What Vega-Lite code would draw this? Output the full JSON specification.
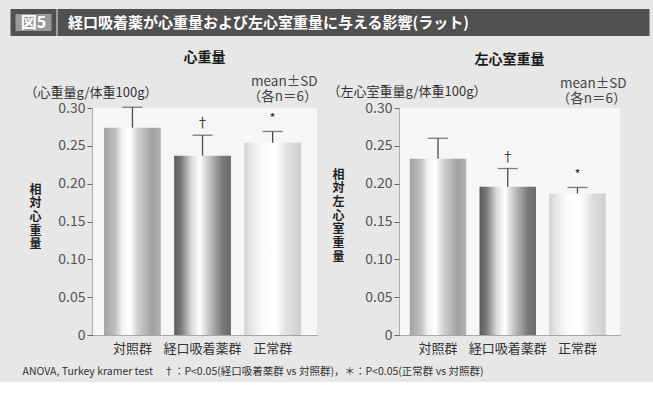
{
  "$schema": "https://vega.github.io/schema/vega-lite/v6.json",
  "background": "#e7e7e7",
  "padding": {"left": 10, "top": 8.5, "right": 8, "bottom": 4},
  "config": {
    "font": "Noto Sans CJK JP",
    "view": {"stroke": null},
    "axisY": {
      "titleAngle": 0, "titleAlign": "left", "titleBaseline": "middle",
      "titleFontSize": 13, "titleFontWeight": "normal", "titleColor": "#333",
      "domainColor": "#666", "domainDash": [1, 1], "tickColor": "#666", "tickSize": 5,
      "labelFontSize": 14, "labelColor": "#555", "labelPadding": 2, "grid": false
    },
    "axisBottom": {
      "domainColor": "#666", "domainDash": [1, 1], "ticks": false, "labelAngle": 0,
      "labelFontSize": 13, "labelColor": "#333", "labelPadding": 7,
      "titleAngle": 0, "titleAlign": "center", "titleBaseline": "middle",
      "titleFontSize": 12, "titleFontWeight": "bold", "titleLineHeight": 13.7, "titleColor": "#222"
    },
    "axisTop": {
      "labels": false, "ticks": false, "domain": false, "grid": false,
      "titleAlign": "right", "titleBaseline": "middle", "titleFontSize": 13.5,
      "titleFontWeight": "normal", "titleLineHeight": 15.5, "titleColor": "#444"
    }
  },
  "datasets": {
    "heading": [{"tag": "図5", "caption": "経口吸着薬が心重量および左心室重量に与える影響(ラット)"}],
    "weights": [
      {"panel": "心重量", "group": "対照群", "mean": 0.274, "mean_plus_sd": 0.301, "sig": ""},
      {"panel": "心重量", "group": "経口吸着薬群", "mean": 0.237, "mean_plus_sd": 0.264, "sig": "†"},
      {"panel": "心重量", "group": "正常群", "mean": 0.254, "mean_plus_sd": 0.269, "sig": "*"},
      {"panel": "左心室重量", "group": "対照群", "mean": 0.233, "mean_plus_sd": 0.26, "sig": ""},
      {"panel": "左心室重量", "group": "経口吸着薬群", "mean": 0.196, "mean_plus_sd": 0.22, "sig": "†"},
      {"panel": "左心室重量", "group": "正常群", "mean": 0.187, "mean_plus_sd": 0.195, "sig": "*"}
    ]
  },
  "title": {
    "text": "ANOVA, Turkey kramer test　†：P<0.05(経口吸着薬群 vs 対照群)，＊：P<0.05(正常群 vs 対照群)",
    "orient": "bottom", "anchor": "start", "fontSize": 10.5, "fontWeight": "normal",
    "color": "#333", "dx": 12, "offset": 12
  },
  "spacing": 14.5,
  "vconcat": [
    {
      "spacing": 0,
      "hconcat": [
        {
          "width": 41, "height": 22,
          "view": {"fill": "#9a9a9a", "stroke": "#505050", "strokeWidth": 5},
          "data": {"name": "heading"},
          "mark": {"type": "text", "color": "white", "fontSize": 16, "fontWeight": "bold", "baseline": "middle"},
          "encoding": {"text": {"field": "tag"}}
        },
        {
          "width": 587, "height": 22,
          "view": {"fill": "#505050", "stroke": "#505050", "strokeWidth": 5},
          "data": {"name": "heading"},
          "mark": {"type": "text", "color": "white", "fontSize": 15, "fontWeight": "bold", "align": "left", "baseline": "middle", "dx": 8},
          "encoding": {
            "text": {"field": "caption"},
            "x": {"datum": 0, "type": "quantitative", "scale": {"domain": [0, 1]}, "axis": null}
          }
        }
      ]
    },
    {
      "spacing": 10,
      "hconcat": [
        {
          "width": 1, "height": 227,
          "data": {"values": []},
          "mark": {"type": "point", "opacity": 0}
        },
        {
          "width": 225, "height": 227,
          "title": {"text": "心重量", "frame": "group", "anchor": "middle", "fontSize": 14, "fontWeight": "bold", "color": "#1a1a1a", "offset": 9},
          "view": {"fill": "#f6f6f6"},
          "data": {"name": "weights"},
          "transform": [{"filter": "datum.panel === '心重量'"}],
          "resolve": {"axis": {"x": "independent", "y": "independent"}},
          "layer": [
            {
              "transform": [{"filter": "datum.group === '対照群'"}],
              "mark": {"type": "bar", "fill": {"gradient": "linear", "x1": 0, "x2": 1, "y1": 0, "y2": 0, "stops": [
                {"offset": 0, "color": "#a2a2a2"}, {"offset": 0.2, "color": "#c0c0c0"}, {"offset": 0.32, "color": "#f2f2f2"},
                {"offset": 0.45, "color": "#ffffff"}, {"offset": 0.6, "color": "#d0d0d0"}, {"offset": 0.85, "color": "#a0a0a0"}, {"offset": 1, "color": "#b4b4b4"}]}},
              "encoding": {
                "x": {"field": "group", "type": "nominal", "scale": {"domain": ["対照群", "経口吸着薬群", "正常群"], "paddingInner": 0.19, "paddingOuter": 0.2, "align": 0.43},
                  "axis": {"orient": "bottom", "title": ["相", "対", "心", "重", "量"], "titleX": -57, "titleY": -146}},
                "y": {"field": "mean", "type": "quantitative", "scale": {"domain": [0, 0.3]},
                  "axis": {"title": "（心重量g/体重100g）", "titleX": -68, "titleY": -16, "values": [0, 0.05, 0.1, 0.15, 0.2, 0.25, 0.3],
                    "labelExpr": "datum.value === 0 ? '0' : format(datum.value, '.2f')"}}
              }
            },
            {
              "transform": [{"filter": "datum.group === '経口吸着薬群'"}],
              "mark": {"type": "bar", "fill": {"gradient": "linear", "x1": 0, "x2": 1, "y1": 0, "y2": 0, "stops": [
                {"offset": 0, "color": "#5a5a5a"}, {"offset": 0.12, "color": "#787878"}, {"offset": 0.3, "color": "#d8d8d8"},
                {"offset": 0.45, "color": "#ffffff"}, {"offset": 0.6, "color": "#c8c8c8"}, {"offset": 0.85, "color": "#7a7a7a"}, {"offset": 1, "color": "#6a6a6a"}]}},
              "encoding": {
                "x": {"field": "group", "type": "nominal", "axis": null},
                "y": {"field": "mean", "type": "quantitative", "axis": null}
              }
            },
            {
              "transform": [{"filter": "datum.group === '正常群'"}],
              "mark": {"type": "bar", "fill": {"gradient": "linear", "x1": 0, "x2": 1, "y1": 0, "y2": 0, "stops": [
                {"offset": 0, "color": "#d0d0d0"}, {"offset": 0.1, "color": "#e4e4e4"}, {"offset": 0.3, "color": "#fafafa"},
                {"offset": 0.55, "color": "#ffffff"}, {"offset": 0.75, "color": "#e0e0e0"}, {"offset": 1, "color": "#cfcfcf"}]}},
              "encoding": {
                "x": {"field": "group", "type": "nominal", "axis": null},
                "y": {"field": "mean", "type": "quantitative", "axis": null}
              }
            },
            {
              "mark": {"type": "rule", "color": "#4a4a4a", "strokeWidth": 1.3},
              "encoding": {
                "x": {"field": "group", "type": "nominal", "axis": null},
                "y": {"field": "mean", "type": "quantitative", "axis": null},
                "y2": {"field": "mean_plus_sd"}
              }
            },
            {
              "mark": {"type": "tick", "color": "#4a4a4a", "thickness": 1.3, "size": 20},
              "encoding": {
                "x": {"field": "group", "type": "nominal", "axis": null},
                "y": {"field": "mean_plus_sd", "type": "quantitative", "axis": null}
              }
            },
            {
              "mark": {"type": "text", "dy": -12, "fontSize": 13, "color": "#333", "baseline": "middle"},
              "encoding": {
                "text": {"field": "sig"},
                "x": {"field": "group", "type": "nominal",
                  "axis": {"orient": "top", "title": ["mean±SD", "（各n＝6）"], "titleX": 225, "titleY": -27}},
                "y": {"field": "mean_plus_sd", "type": "quantitative", "axis": null}
              }
            }
          ]
        },
        {
          "width": 221, "height": 227,
          "title": {"text": "左心室重量", "frame": "group", "anchor": "middle", "fontSize": 14, "fontWeight": "bold", "color": "#1a1a1a", "offset": 9},
          "view": {"fill": "#f6f6f6"},
          "data": {"name": "weights"},
          "transform": [{"filter": "datum.panel === '左心室重量'"}],
          "resolve": {"axis": {"x": "independent", "y": "independent"}},
          "layer": [
            {
              "transform": [{"filter": "datum.group === '対照群'"}],
              "mark": {"type": "bar", "fill": {"gradient": "linear", "x1": 0, "x2": 1, "y1": 0, "y2": 0, "stops": [
                {"offset": 0, "color": "#a2a2a2"}, {"offset": 0.2, "color": "#c0c0c0"}, {"offset": 0.32, "color": "#f2f2f2"},
                {"offset": 0.45, "color": "#ffffff"}, {"offset": 0.6, "color": "#d0d0d0"}, {"offset": 0.85, "color": "#a0a0a0"}, {"offset": 1, "color": "#b4b4b4"}]}},
              "encoding": {
                "x": {"field": "group", "type": "nominal", "scale": {"domain": ["対照群", "経口吸着薬群", "正常群"], "paddingInner": 0.19, "paddingOuter": 0.18, "align": 0.43},
                  "axis": {"orient": "bottom", "title": ["相", "対", "左", "心", "室", "重", "量"], "titleX": -61, "titleY": -161}},
                "y": {"field": "mean", "type": "quantitative", "scale": {"domain": [0, 0.3]},
                  "axis": {"title": "（左心室重量g/体重100g）", "titleX": -72, "titleY": -17, "values": [0, 0.05, 0.1, 0.15, 0.2, 0.25, 0.3],
                    "labelExpr": "datum.value === 0 ? '0' : format(datum.value, '.2f')"}}
              }
            },
            {
              "transform": [{"filter": "datum.group === '経口吸着薬群'"}],
              "mark": {"type": "bar", "fill": {"gradient": "linear", "x1": 0, "x2": 1, "y1": 0, "y2": 0, "stops": [
                {"offset": 0, "color": "#5a5a5a"}, {"offset": 0.12, "color": "#787878"}, {"offset": 0.3, "color": "#d8d8d8"},
                {"offset": 0.45, "color": "#ffffff"}, {"offset": 0.6, "color": "#c8c8c8"}, {"offset": 0.85, "color": "#7a7a7a"}, {"offset": 1, "color": "#6a6a6a"}]}},
              "encoding": {
                "x": {"field": "group", "type": "nominal", "axis": null},
                "y": {"field": "mean", "type": "quantitative", "axis": null}
              }
            },
            {
              "transform": [{"filter": "datum.group === '正常群'"}],
              "mark": {"type": "bar", "fill": {"gradient": "linear", "x1": 0, "x2": 1, "y1": 0, "y2": 0, "stops": [
                {"offset": 0, "color": "#d0d0d0"}, {"offset": 0.1, "color": "#e4e4e4"}, {"offset": 0.3, "color": "#fafafa"},
                {"offset": 0.55, "color": "#ffffff"}, {"offset": 0.75, "color": "#e0e0e0"}, {"offset": 1, "color": "#cfcfcf"}]}},
              "encoding": {
                "x": {"field": "group", "type": "nominal", "axis": null},
                "y": {"field": "mean", "type": "quantitative", "axis": null}
              }
            },
            {
              "mark": {"type": "rule", "color": "#4a4a4a", "strokeWidth": 1.3},
              "encoding": {
                "x": {"field": "group", "type": "nominal", "axis": null},
                "y": {"field": "mean", "type": "quantitative", "axis": null},
                "y2": {"field": "mean_plus_sd"}
              }
            },
            {
              "mark": {"type": "tick", "color": "#4a4a4a", "thickness": 1.3, "size": 20},
              "encoding": {
                "x": {"field": "group", "type": "nominal", "axis": null},
                "y": {"field": "mean_plus_sd", "type": "quantitative", "axis": null}
              }
            },
            {
              "mark": {"type": "text", "dy": -12, "fontSize": 13, "color": "#333", "baseline": "middle"},
              "encoding": {
                "text": {"field": "sig"},
                "x": {"field": "group", "type": "nominal",
                  "axis": {"orient": "top", "title": ["mean±SD", "（各n＝6）"], "titleX": 227, "titleY": -25}},
                "y": {"field": "mean_plus_sd", "type": "quantitative", "axis": null}
              }
            }
          ]
        }
      ]
    }
  ]
}
